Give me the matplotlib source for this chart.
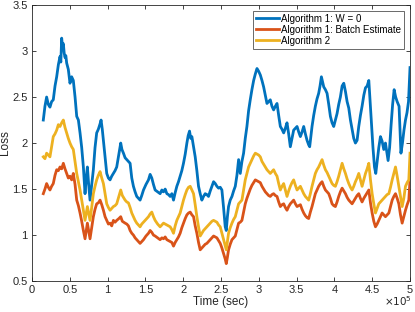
import matplotlib
matplotlib.use("Agg")
import matplotlib.pyplot as plt
from matplotlib.ticker import FuncFormatter, MultipleLocator
import numpy as np

# time values in units of 1e5 sec
t_w0 = [0.150, 0.172, 0.194, 0.216, 0.238, 0.260, 0.282, 0.305, 0.327, 0.349, 0.371, 0.382, 0.393, 0.404,
        0.415, 0.426, 0.437, 0.448, 0.459, 0.481, 0.503, 0.525, 0.547, 0.570, 0.592, 0.614, 0.636, 0.658,
        0.680, 0.691, 0.702, 0.718, 0.733, 0.750, 0.768, 0.790, 0.812, 0.834, 0.856, 0.878, 0.901, 0.914,
        0.930, 0.945, 0.967, 0.989, 1.011, 1.033, 1.055, 1.077, 1.099, 1.121, 1.150, 1.174, 1.190, 1.210,
        1.232, 1.254, 1.276, 1.298, 1.320, 1.342, 1.364, 1.386, 1.408, 1.430, 1.452, 1.475, 1.508, 1.541,
        1.563, 1.585, 1.607, 1.629, 1.662, 1.695, 1.718, 1.740, 1.762, 1.784, 1.806, 1.828, 1.850, 1.872,
        1.894, 1.916, 1.938, 1.960, 1.982, 2.004, 2.027, 2.049, 2.066, 2.084, 2.100, 2.115, 2.137, 2.159,
        2.181, 2.203, 2.225, 2.247, 2.269, 2.291, 2.313, 2.335, 2.358, 2.380, 2.402, 2.424, 2.446, 2.468,
        2.490, 2.512, 2.534, 2.556, 2.570, 2.585, 2.600, 2.622, 2.645, 2.667, 2.689, 2.711, 2.733, 2.755,
        2.777, 2.799, 2.821, 2.843, 2.865, 2.887, 2.909, 2.932, 2.954, 2.976, 2.998, 3.020, 3.042, 3.064,
        3.086, 3.108, 3.130, 3.152, 3.174, 3.196, 3.219, 3.241, 3.263, 3.285, 3.307, 3.329, 3.351, 3.373,
        3.395, 3.417, 3.439, 3.461, 3.484, 3.506, 3.528, 3.550, 3.572, 3.594, 3.616, 3.638, 3.660, 3.673,
        3.690, 3.704, 3.726, 3.748, 3.770, 3.792, 3.810, 3.828, 3.845, 3.859, 3.881, 3.903, 3.925, 3.947,
        3.969, 3.991, 4.013, 4.035, 4.057, 4.079, 4.102, 4.124, 4.146, 4.168, 4.190, 4.212, 4.234, 4.256,
        4.278, 4.300, 4.322, 4.344, 4.366, 4.389, 4.411, 4.433, 4.455, 4.472, 4.490, 4.510, 4.530, 4.547,
        4.565, 4.587, 4.609, 4.631, 4.653, 4.675, 4.697, 4.710, 4.730, 4.750, 4.770, 4.790, 4.810, 4.830,
        4.855, 4.880, 4.900, 4.920, 4.940, 4.960, 4.980, 5.000]
loss_w0 = [2.25, 2.40, 2.50, 2.42, 2.39, 2.45, 2.47, 2.62, 2.72, 2.85, 2.94, 2.88, 3.14, 3.05,
           3.08, 2.98, 2.93, 2.95, 2.87, 2.80, 2.65, 2.72, 2.68, 2.50, 2.29, 2.25, 2.11, 1.95,
           1.74, 1.60, 1.45, 1.62, 1.74, 1.55, 1.38, 1.55, 1.71, 1.95, 2.11, 2.15, 2.21, 2.25,
           2.15, 2.03, 1.85, 1.67, 1.62, 1.60, 1.64, 1.67, 1.70, 1.74, 1.88, 2.00, 1.93, 1.89,
           1.84, 1.82, 1.80, 1.78, 1.62, 1.53, 1.47, 1.42, 1.40, 1.38, 1.43, 1.49, 1.55, 1.60,
           1.66, 1.62, 1.55, 1.49, 1.47, 1.45, 1.49, 1.47, 1.50, 1.45, 1.44, 1.42, 1.45, 1.38,
           1.46, 1.53, 1.58, 1.64, 1.70, 1.78, 1.88, 2.00, 2.08, 2.13, 2.05, 2.07, 1.96, 1.85,
           1.70, 1.53, 1.45, 1.38, 1.42, 1.45, 1.44, 1.42, 1.48, 1.53, 1.58, 1.56, 1.53, 1.51,
           1.52, 1.49, 1.30, 1.09, 1.05, 1.20, 1.31, 1.38, 1.42, 1.48, 1.53, 1.65, 1.82, 1.67,
           1.80, 1.89, 2.05, 2.18, 2.35, 2.47, 2.58, 2.68, 2.75, 2.81, 2.78, 2.74, 2.68, 2.61,
           2.52, 2.43, 2.45, 2.47, 2.40, 2.36, 2.40, 2.43, 2.30, 2.18, 2.15, 2.11, 2.16, 2.22,
           2.10, 1.96, 2.05, 2.14, 2.16, 2.18, 2.12, 2.07, 2.12, 2.18, 2.10, 2.03, 1.98, 1.96,
           2.08, 2.18, 2.30, 2.40, 2.48, 2.54, 2.62, 2.72, 2.66, 2.61, 2.58, 2.54, 2.42, 2.29,
           2.22, 2.18, 2.25, 2.32, 2.42, 2.50, 2.62, 2.65, 2.56, 2.45, 2.38, 2.25, 2.15, 2.05,
           2.00, 2.03, 2.18, 2.30, 2.40, 2.52, 2.60, 2.62, 2.68, 2.45, 2.20, 1.95, 1.74, 1.67,
           1.80, 1.95, 2.07, 2.02, 1.93, 2.00, 1.88, 1.81, 1.95, 2.20, 2.42, 2.58, 2.50, 2.45,
           2.40, 1.89, 2.00, 2.14, 2.25, 2.33, 2.45, 2.82]

t_batch = [0.150, 0.172, 0.194, 0.216, 0.238, 0.260, 0.282, 0.305, 0.327, 0.349, 0.371, 0.393, 0.415, 0.437,
           0.459, 0.481, 0.503, 0.525, 0.547, 0.570, 0.592, 0.614, 0.636, 0.658, 0.680, 0.702, 0.718, 0.733,
           0.750, 0.768, 0.790, 0.812, 0.834, 0.856, 0.878, 0.901, 0.923, 0.945, 0.967, 0.989, 1.011, 1.033,
           1.055, 1.077, 1.099, 1.121, 1.150, 1.174, 1.195, 1.232, 1.254, 1.276, 1.298, 1.320, 1.342, 1.364,
           1.386, 1.408, 1.430, 1.452, 1.475, 1.508, 1.541, 1.563, 1.585, 1.607, 1.629, 1.662, 1.695, 1.718,
           1.740, 1.762, 1.784, 1.806, 1.828, 1.850, 1.872, 1.894, 1.916, 1.938, 1.960, 1.982, 2.004, 2.027,
           2.049, 2.071, 2.093, 2.115, 2.137, 2.159, 2.181, 2.203, 2.225, 2.247, 2.269, 2.291, 2.313, 2.335,
           2.358, 2.380, 2.402, 2.424, 2.446, 2.468, 2.490, 2.512, 2.534, 2.556, 2.570, 2.585, 2.600, 2.622,
           2.645, 2.667, 2.689, 2.711, 2.733, 2.755, 2.777, 2.799, 2.821, 2.843, 2.865, 2.887, 2.909, 2.932,
           2.954, 2.976, 2.998, 3.020, 3.042, 3.064, 3.086, 3.108, 3.130, 3.152, 3.174, 3.196, 3.219, 3.241,
           3.263, 3.285, 3.307, 3.329, 3.351, 3.373, 3.395, 3.417, 3.439, 3.461, 3.484, 3.506, 3.528, 3.550,
           3.572, 3.594, 3.616, 3.638, 3.660, 3.682, 3.704, 3.726, 3.748, 3.770, 3.792, 3.815, 3.837, 3.859,
           3.881, 3.903, 3.925, 3.947, 3.969, 3.991, 4.013, 4.035, 4.057, 4.079, 4.102, 4.124, 4.146, 4.168,
           4.190, 4.212, 4.234, 4.256, 4.278, 4.300, 4.322, 4.344, 4.366, 4.389, 4.411, 4.433, 4.455, 4.477,
           4.499, 4.521, 4.543, 4.565, 4.587, 4.609, 4.631, 4.653, 4.675, 4.697, 4.720, 4.742, 4.764, 4.786,
           4.808, 4.830, 4.852, 4.874, 4.896, 4.918, 4.940, 4.962, 4.984, 5.000]
loss_batch = [1.45, 1.50, 1.56, 1.52, 1.49, 1.53, 1.56, 1.65, 1.71, 1.70, 1.74, 1.72, 1.78, 1.72,
              1.67, 1.62, 1.64, 1.60, 1.67, 1.55, 1.38, 1.32, 1.24, 1.15, 1.05, 0.96, 1.05, 1.13,
              1.05, 0.96, 1.08, 1.20, 1.28, 1.34, 1.35, 1.38, 1.33, 1.27, 1.20, 1.16, 1.12, 1.13,
              1.10, 1.16, 1.14, 1.16, 1.18, 1.20, 1.15, 1.13, 1.12, 1.10, 1.05, 1.02, 1.00, 0.97,
              0.95, 0.93, 0.91, 0.93, 0.95, 0.99, 1.02, 1.05, 1.03, 1.00, 0.99, 0.97, 0.95, 0.97,
              0.96, 0.98, 0.95, 0.94, 0.93, 0.92, 0.88, 0.92, 0.95, 0.98, 1.02, 1.08, 1.13, 1.18,
              1.22, 1.24, 1.25, 1.22, 1.20, 1.10, 1.02, 0.92, 0.84, 0.86, 0.88, 0.90, 0.91, 0.93,
              0.95, 0.97, 0.99, 0.98, 0.97, 0.94, 0.91, 0.86, 0.80, 0.74, 0.69, 0.76, 0.84, 0.90,
              0.95, 0.97, 0.99, 1.06, 1.13, 1.14, 1.16, 1.25, 1.34, 1.40, 1.45, 1.50, 1.54, 1.57,
              1.60, 1.59, 1.58, 1.57, 1.53, 1.50, 1.47, 1.45, 1.43, 1.42, 1.44, 1.45, 1.43, 1.42,
              1.36, 1.31, 1.33, 1.34, 1.30, 1.27, 1.31, 1.34, 1.36, 1.38, 1.34, 1.31, 1.32, 1.33,
              1.28, 1.24, 1.21, 1.19, 1.18, 1.25, 1.31, 1.38, 1.45, 1.49, 1.53, 1.56, 1.58, 1.53,
              1.49, 1.47, 1.45, 1.40, 1.34, 1.32, 1.31, 1.36, 1.42, 1.47, 1.51, 1.48, 1.45, 1.41,
              1.38, 1.36, 1.34, 1.37, 1.40, 1.43, 1.45, 1.40, 1.36, 1.40, 1.43, 1.46, 1.49, 1.35,
              1.24, 1.15, 1.09, 1.12, 1.16, 1.20, 1.24, 1.22, 1.20, 1.22, 1.24, 1.31, 1.38, 1.42,
              1.45, 1.40, 1.34, 1.22, 1.13, 1.20, 1.27, 1.33, 1.38, 1.60]

t_alg2 = t_batch
loss_alg2 = [1.85, 1.83, 1.89, 1.87, 1.85, 1.96, 2.07, 2.10, 2.14, 2.20, 2.18, 2.22, 2.25, 2.17,
             2.11, 2.05, 2.00, 1.96, 1.93, 1.80, 1.67, 1.58, 1.49, 1.38, 1.27, 1.16, 1.24, 1.31,
             1.24, 1.16, 1.30, 1.45, 1.53, 1.60, 1.65, 1.69, 1.62, 1.56, 1.45, 1.34, 1.30, 1.27,
             1.29, 1.31, 1.32, 1.34, 1.42, 1.49, 1.43, 1.38, 1.36, 1.35, 1.30, 1.24, 1.20, 1.16,
             1.13, 1.11, 1.09, 1.12, 1.14, 1.17, 1.20, 1.23, 1.25, 1.20, 1.16, 1.12, 1.09, 1.11,
             1.13, 1.12, 1.11, 1.10, 1.09, 1.06, 1.02, 1.10, 1.16, 1.20, 1.24, 1.31, 1.38, 1.44,
             1.49, 1.52, 1.53, 1.49, 1.45, 1.33, 1.20, 1.09, 0.99, 1.02, 1.05, 1.07, 1.09, 1.11,
             1.13, 1.15, 1.16, 1.15, 1.14, 1.11, 1.09, 1.02, 0.95, 0.88, 0.84, 0.93, 1.02, 1.08,
             1.13, 1.17, 1.20, 1.27, 1.34, 1.36, 1.38, 1.49, 1.60, 1.67, 1.74, 1.78, 1.82, 1.86,
             1.89, 1.88, 1.87, 1.85, 1.80, 1.77, 1.74, 1.71, 1.69, 1.67, 1.69, 1.71, 1.67, 1.64,
             1.56, 1.49, 1.53, 1.56, 1.49, 1.42, 1.48, 1.53, 1.57, 1.60, 1.54, 1.49, 1.51, 1.53,
             1.49, 1.45, 1.42, 1.40, 1.38, 1.45, 1.53, 1.60, 1.67, 1.71, 1.74, 1.78, 1.82, 1.76,
             1.71, 1.68, 1.64, 1.60, 1.56, 1.54, 1.53, 1.58, 1.64, 1.71, 1.78, 1.72, 1.67, 1.61,
             1.56, 1.52, 1.49, 1.53, 1.58, 1.62, 1.67, 1.60, 1.53, 1.60, 1.67, 1.72, 1.78, 1.60,
             1.45, 1.34, 1.24, 1.29, 1.34, 1.36, 1.38, 1.40, 1.42, 1.44, 1.45, 1.52, 1.60, 1.67,
             1.74, 1.64, 1.53, 1.42, 1.31, 1.40, 1.53, 1.57, 1.60, 1.89]

labels = ["Algorithm 1: W = 0", "Algorithm 1: Batch Estimate", "Algorithm 2"]
colors = ["#0072BD", "#D95319", "#EDB120"]

plt.rcParams["font.family"] = "Liberation Sans"
ink = "#262626"

fig = plt.figure(figsize=(4.15, 3.12), dpi=100)
ax = fig.add_axes([0.077, 0.099, 0.911, 0.885])

series = [(t_w0, loss_w0), (t_batch, loss_batch), (t_alg2, loss_alg2)]
for (t, y), lab, c in zip(series, labels, colors):
    ax.plot(np.array(t) * 1e5, y, color=c, lw=2.0, label=lab)

ax.set_xlim(0, 5e5)
ax.set_ylim(0.5, 3.5)
ax.xaxis.set_major_locator(MultipleLocator(0.5e5))
ax.yaxis.set_major_locator(MultipleLocator(0.5))
ax.xaxis.set_major_formatter(FuncFormatter(lambda v, p: f"{v / 1e5:g}"))
ax.yaxis.set_major_formatter(FuncFormatter(lambda v, p: f"{v:g}"))
ax.tick_params(direction="in", top=True, right=True, length=3, width=0.6,
               labelsize=8, colors=ink, pad=3)
for s in ax.spines.values():
    s.set_color(ink)
    s.set_linewidth(0.6)

ax.set_xlabel("Time (sec)", fontsize=8.5, color=ink)
ax.set_ylabel("Loss", fontsize=8.5, color=ink)
ax.xaxis.set_label_coords(0.5, -0.055)
ax.yaxis.set_label_coords(-0.055, 0.5)
ax.text(1.006, -0.047, r"$\times10^5$", transform=ax.transAxes, ha="right", va="top",
        fontsize=7.5, color=ink)

leg = ax.legend(loc="upper right", fontsize=7.0, frameon=True, fancybox=False,
                borderpad=0.3, labelspacing=0.1, handlelength=2.4, handletextpad=0.2,
                borderaxespad=0.6)
leg.get_frame().set_edgecolor(ink)
leg.get_frame().set_linewidth(0.6)

fig.savefig("out.png", dpi=100)
